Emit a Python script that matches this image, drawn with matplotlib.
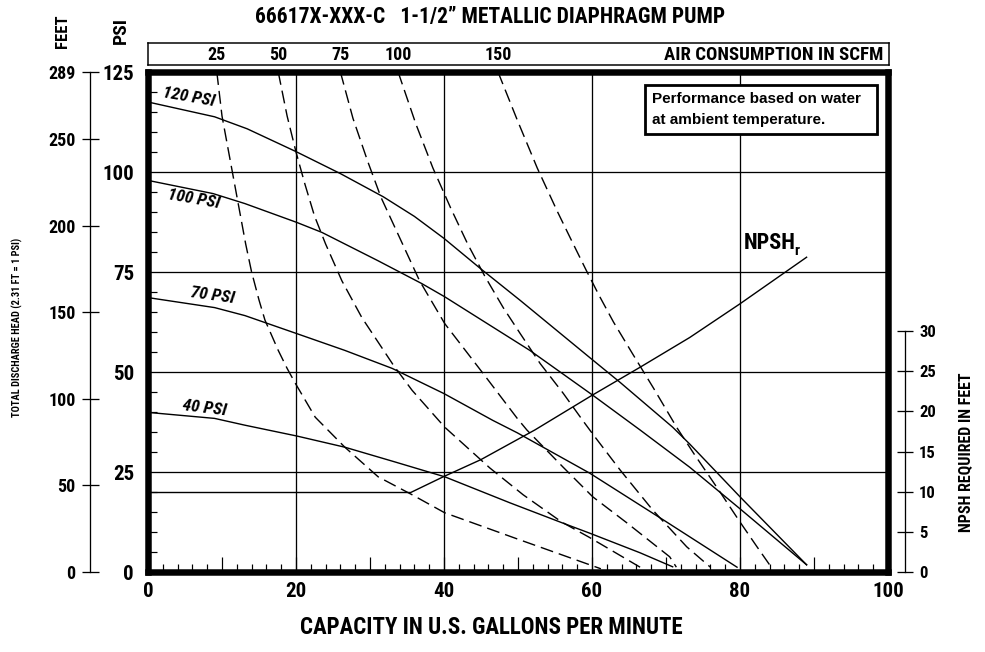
import matplotlib
matplotlib.use('Agg')
import matplotlib.pyplot as plt
from matplotlib import font_manager as fm
from matplotlib.ticker import MultipleLocator
from matplotlib.patches import Rectangle

plt.rcParams['lines.scale_dashes'] = False

# ---------------- data ----------------
gpm_ticks = [0, 20, 40, 60, 80, 100]
psi_ticks = [0, 25, 50, 75, 100, 125]
feet_ticks = [0, 50, 100, 150, 200, 250, 289]
npsh_ticks = [0, 5, 10, 15, 20, 25, 30]

# pressure curves (solid)
gpm_120 = [0, 9, 13.4, 20, 26, 31.8, 36, 40, 44.9, 50.3, 59.7, 63.8, 70.9, 73.2, 80, 89]
psi_120 = [117.5, 113.8, 110.8, 105.1, 99.6, 93.8, 88.9, 83.4, 75.9, 67.9, 53.6, 47.4, 36.2, 32.0, 18.8, 1.8]
gpm_100 = [0, 8.8, 13.1, 20.1, 23.5, 31.1, 37, 40.1, 51.6, 60.1, 66.5, 73.2, 80, 89]
psi_100 = [97.9, 94.6, 92.1, 87.4, 84.9, 77.8, 72.1, 68.8, 55.4, 44.2, 35.5, 26.2, 15.8, 1.8]
gpm_70 = [0, 9, 13.1, 20.1, 26.6, 33, 40, 46.6, 49.9, 59.7, 70, 79.6]
psi_70 = [68.6, 66.1, 64.1, 59.6, 55.4, 50.9, 44.6, 37.9, 34.8, 24.7, 12.6, 1.2]
gpm_40 = [0, 9, 13.1, 20.1, 26.6, 33.4, 40.1, 48.9, 56.1, 59.7, 66.5, 70.9]
psi_40 = [39.9, 38.4, 36.7, 34, 31.2, 27.5, 23.8, 17.3, 12.2, 9.7, 4.8, 1.3]

# air consumption curves (dashed)
gpm_s25 = [9.3, 10, 10.8, 11.6, 12.4, 13.2, 14.0, 15.0, 15.8, 17.6, 18.8, 19.9, 22.6, 26.6, 31.1, 35.7, 40.1, 50, 60, 61.2]
psi_s25 = [125, 114, 106, 98, 90, 82, 75, 68, 63, 55.4, 50.9, 47.2, 38.7, 31.2, 23.8, 19.3, 14.8, 8.2, 1.6, 0.8]
gpm_s50 = [17.6, 18.8, 20.0, 21.2, 22.5, 24.0, 26.2, 28.9, 33.2, 35.7, 40.1, 46.2, 50.7, 55.9, 59.7, 66.5]
psi_s50 = [125, 114, 105, 97, 89, 82, 72.8, 63.6, 51.6, 45.4, 36.2, 26, 19.3, 12.5, 8.6, 1.2]
gpm_s75 = [26, 27.7, 29.7, 31.5, 33.6, 36.7, 40.1, 45.3, 49.9, 51.2, 56.1, 60.1, 64.7, 70.5, 71.4]
psi_s75 = [125, 113.4, 102.6, 93.6, 85.2, 72.8, 62.1, 49.6, 38.4, 35.5, 26.2, 18.8, 12.3, 3.8, 1.2]
gpm_s100 = [33.8, 36.2, 38.5, 40.9, 43.2, 45.5, 48, 50.3, 53, 56.1, 58.9, 60.3, 63.8, 68.2, 72.8, 76]
psi_s100 = [125, 112, 101, 91, 82, 74, 66.1, 59.6, 52.1, 44.7, 37.5, 34, 25.5, 15.5, 6.3, 1.2]
gpm_s150 = [47.3, 49.9, 52.6, 55.3, 57.2, 59.2, 61.0, 62.9, 65.5, 68.3, 71.5, 73.8, 77.3, 80, 82.3, 84]
psi_s150 = [125, 113, 101, 90.2, 83, 75.5, 69, 62.5, 54.5, 46, 36, 29.5, 20, 12.5, 6.3, 1.8]

# NPSH required (feet)
gpm_npsh = [0, 35.5, 40, 45, 52.3, 60, 66.5, 73.2, 80, 84.5, 89]
ft_npsh = [9.9, 9.9, 11.9, 14, 17.7, 22, 25.5, 29.2, 33.4, 36.3, 39.2]

pressure_curves = [("120 PSI", gpm_120, psi_120), ("100 PSI", gpm_100, psi_100),
                   ("70 PSI", gpm_70, psi_70), ("40 PSI", gpm_40, psi_40)]
scfm_curves = [("25", gpm_s25, psi_s25), ("50", gpm_s50, psi_s50), ("75", gpm_s75, psi_s75),
               ("100", gpm_s100, psi_s100), ("150", gpm_s150, psi_s150)]

# ---------------- fonts ----------------
names = {f.name for f in fm.fontManager.ttflist}
COND = None
for c in ['Roboto Condensed', 'Liberation Sans Narrow', 'Archivo Narrow', 'Barlow Condensed']:
    if c in names:
        COND = c
        break
if COND is None:
    COND = 'Liberation Sans' if 'Liberation Sans' in names else 'DejaVu Sans'
CF = dict(family=COND, weight='bold')
REG = dict(family='Liberation Sans' if 'Liberation Sans' in names else 'DejaVu Sans', weight='bold')

# ---------------- figure ----------------
W, H, DPI = 985, 652, 100
def pt(p):
    return p * 72.0 / DPI

fig = plt.figure(figsize=(W / DPI, H / DPI), dpi=DPI)
fig.patch.set_facecolor('white')

L, R, T, B = 148, 888, 72, 572
ax = fig.add_axes([L / W, 1 - B / H, (R - L) / W, (B - T) / H])
ax.set_xlim(0, 100)
ax.set_ylim(0, 125)
for s in ax.spines.values():
    s.set_linewidth(pt(6.5))
    s.set_zorder(5)

# grid
for v in gpm_ticks[1:-1]:
    ax.axvline(v, color='k', lw=pt(1.3), zorder=1)
for v in psi_ticks[1:-1]:
    ax.axhline(v, color='k', lw=pt(1.3), zorder=1)

ax.set_xticks(list(range(0, 101, 10)))
ax.set_xticklabels([str(v) if v in gpm_ticks else '' for v in range(0, 101, 10)])
ax.xaxis.set_minor_locator(MultipleLocator(2))
ax.tick_params(axis='x', which='major', direction='in', length=pt(15), width=pt(1.2), pad=pt(10))
ax.tick_params(axis='x', which='minor', direction='in', length=pt(8), width=pt(1.2))
ax.set_yticks(psi_ticks)
ax.yaxis.set_minor_locator(MultipleLocator(5))
ax.tick_params(axis='y', which='major', length=0, pad=pt(14))
ax.tick_params(axis='y', which='minor', direction='in', length=pt(9), width=pt(1.2))
for lab in ax.get_xticklabels():
    lab.set_fontproperties(fm.FontProperties(**CF, size=15))
for lab in ax.get_yticklabels():
    lab.set_fontproperties(fm.FontProperties(**CF, size=15))

# curves
for name, g, p in pressure_curves:
    ax.plot(g, p, color='k', lw=pt(1.4), zorder=3, solid_joinstyle='round')
for name, g, p in scfm_curves:
    ax.plot(g, p, color='k', lw=pt(1.4), zorder=3, dashes=(pt(13), pt(6)))

# curve labels
lab_pos = {"120 PSI": (5.5, 118.8, -10), "100 PSI": (6.2, 93.3, -10),
           "70 PSI": (8.7, 69.0, -8), "40 PSI": (7.7, 41.0, -7)}
for name, g, p in pressure_curves:
    x, y, r = lab_pos[name]
    ax.text(x, y, name, rotation=r, ha='center', va='center', style='italic',
            fontsize=12.5, **CF, zorder=4)

# feet axis
axf = ax.twinx()
axf.set_ylim(0, 125 * 2.312)
for k in ['right', 'top', 'bottom']:
    axf.spines[k].set_visible(False)
axf.spines['left'].set_position(('outward', pt(L - 90)))
axf.spines['left'].set_linewidth(pt(1.3))
axf.yaxis.tick_left()
axf.set_yticks(feet_ticks)
axf.tick_params(axis='y', direction='inout', length=pt(17), width=pt(1.3), pad=pt(6))
for lab in axf.get_yticklabels():
    lab.set_fontproperties(fm.FontProperties(**CF, size=13))

# NPSH axis
axn = ax.twinx()
axn.set_ylim(0, 500 / 8.03)
for k in ['left', 'top', 'bottom']:
    axn.spines[k].set_visible(False)
axn.spines['right'].set_position(('outward', pt(905 - R)))
axn.spines['right'].set_linewidth(pt(1.3))
axn.spines['right'].set_bounds(0, 30)
axn.set_yticks(npsh_ticks)
axn.tick_params(axis='y', direction='inout', length=pt(16), width=pt(1.3), pad=pt(6))
for lab in axn.get_yticklabels():
    lab.set_fontproperties(fm.FontProperties(**CF, size=12))
axn.plot(gpm_npsh, ft_npsh, color='k', lw=pt(1.4), zorder=3)
axn.text(80.5, 500 / 8.03 * (572 - 243) / 500, 'NPSH', ha='left', va='center', fontsize=16, **CF)
axn.text(87.3, 500 / 8.03 * (572 - 251) / 500, 'r', ha='left', va='center', fontsize=11, **CF)

# air consumption bar
axt = fig.add_axes([L / W, 1 - 65 / H, 741 / W, 22 / H])
axt.set_xlim(0, 100 * 741 / 740)
axt.set_ylim(0, 1)
axt.set_xticks([])
axt.set_yticks([])
for s in axt.spines.values():
    s.set_linewidth(pt(1.5))
for name, g, p in scfm_curves:
    axt.text(g[0], 0.45, name, ha='center', va='center', fontsize=13, **CF)
axt.text(0.992, 0.45, 'AIR CONSUMPTION IN SCFM', transform=axt.transAxes,
         ha='right', va='center', fontsize=13.5, **CF)

# performance note box
fig.patches.append(Rectangle((645 / W, 1 - 134 / H), 232 / W, 49 / H, transform=fig.transFigure,
                             fc='white', ec='k', lw=pt(2.8), zorder=10))
fig.text(652 / W, 1 - 99 / H, 'Performance based on water', ha='left', va='center',
         fontsize=11, **REG, zorder=11)
fig.text(652 / W, 1 - 120 / H, 'at ambient temperature.', ha='left', va='center',
         fontsize=11, **REG, zorder=11)

# titles and axis labels
fig.text(490 / W, 1 - 17 / H, '66617X-XXX-C   1-1/2\u201d METALLIC DIAPHRAGM PUMP',
         ha='center', va='center', fontsize=15.5, **CF)
fig.text(62 / W, 1 - 31 / H, 'FEET', rotation=90, ha='center', va='center', fontsize=12, **CF)
fig.text(121 / W, 1 - 31 / H, 'PSI', rotation=90, ha='center', va='center', fontsize=14, **CF)
fig.text(17 / W, 1 - 327 / H, 'TOTAL DISCHARGE HEAD (2.31 FT = 1 PSI)', rotation=90,
         ha='center', va='center', fontsize=7.5, **CF)
fig.text(966 / W, 1 - 452 / H, 'NPSH REQUIRED IN FEET', rotation=90, ha='center', va='center',
         fontsize=11.5, **CF)
fig.text(491 / W, 1 - 628 / H, 'CAPACITY IN U.S. GALLONS PER MINUTE', ha='center', va='center',
         fontsize=16.5, **CF)

fig.savefig('out.png', dpi=DPI)
